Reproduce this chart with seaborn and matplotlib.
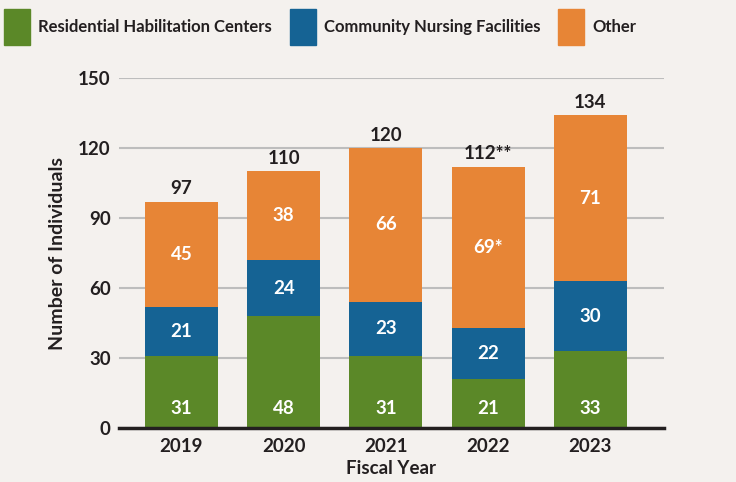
import numpy as np
import pandas as pd
import seaborn as sns
import matplotlib.pyplot as plt
from matplotlib.patches import Rectangle

# Data
years = ["2019", "2020", "2021", "2022", "2023"]
rhc = [31, 48, 31, 21, 33]          # Residential Habilitation Centers
cnf = [21, 24, 23, 22, 30]          # Community Nursing Facilities
other = [45, 38, 66, 69, 71]        # Other
other_labels = ["45", "38", "66", "69*", "71"]
total_labels = ["97", "110", "120", "112**", "134"]
series_names = ["Residential Habilitation Centers", "Community Nursing Facilities", "Other"]

GREEN = "#5b8828"
BLUE = "#156394"
ORANGE = "#e78536"
BG = "#f4f1ee"
TEXT = "#231f20"

sns.set_theme(style="white")
plt.rcParams["font.family"] = ["Lato", "DejaVu Sans"]
plt.rcParams["font.weight"] = "bold"

df = pd.DataFrame({"year": years, "rhc": rhc, "cnf": cnf, "other": other})
df["rhc_cnf"] = df["rhc"] + df["cnf"]
df["total"] = df["rhc_cnf"] + df["other"]

fig = plt.figure(figsize=(7.36, 4.82), dpi=100, facecolor=BG)
ax = fig.add_axes([119 / 736, 1 - 428 / 482, (664 - 119) / 736, 350 / 482])
ax.set_facecolor(BG)

# stacked bars drawn as overlapping cumulative layers
bar_kw = dict(saturation=1, width=0.714, ax=ax, zorder=3, linewidth=0)
sns.barplot(data=df, x="year", y="total", color=ORANGE, **bar_kw)
sns.barplot(data=df, x="year", y="rhc_cnf", color=BLUE, **bar_kw)
sns.barplot(data=df, x="year", y="rhc", color=GREEN, **bar_kw)

ax.set_xlim(-0.611, 4.72)
ax.set_ylim(0, 150)
ax.set_yticks([0, 30, 60, 90, 120, 150])
ax.yaxis.grid(True, color="#bdbdbd", linewidth=1.5, zorder=0)
ax.xaxis.grid(False)
for s in ["top", "right", "left"]:
    ax.spines[s].set_visible(False)
ax.spines["bottom"].set_color(TEXT)
ax.spines["bottom"].set_linewidth(2.5)
ax.spines["bottom"].set_zorder(4)
ax.tick_params(axis="both", length=0, labelsize=13.5, labelcolor=TEXT)
ax.tick_params(axis="x", pad=7)
ax.tick_params(axis="y", pad=6)
for lab in ax.get_xticklabels() + ax.get_yticklabels():
    lab.set_fontweight("bold")

ax.set_xlabel("Fiscal Year", fontsize=13.5, fontweight="bold", color=TEXT, labelpad=4)
ax.set_ylabel("Number of Individuals", fontsize=14, fontweight="bold", color=TEXT, labelpad=9)

# segment labels
for i in range(len(years)):
    ax.text(i, 8.5, str(rhc[i]), ha="center", va="center", color="white",
            fontsize=13.5, fontweight="bold", zorder=5)
    ax.text(i, rhc[i] + cnf[i] / 2, str(cnf[i]), ha="center", va="center", color="white",
            fontsize=13.5, fontweight="bold", zorder=5)
    ax.text(i, rhc[i] + cnf[i] + other[i] / 2, other_labels[i], ha="center", va="center",
            color="white", fontsize=13.5, fontweight="bold", zorder=5)
    ax.annotate(total_labels[i], (i, df["total"][i]), xytext=(0, 3), textcoords="offset points",
                ha="center", va="bottom", color=TEXT, fontsize=13.5, fontweight="bold")

# legend across the top, entries laid out one after another
renderer = fig.canvas.get_renderer()
x0 = 4
for name, col in zip(series_names, [GREEN, BLUE, ORANGE]):
    fig.patches.append(Rectangle((x0 / 736, 1 - 45 / 482), 26 / 736, 36 / 482,
                                 transform=fig.transFigure, color=col))
    t = fig.text((x0 + 34) / 736, 1 - 27 / 482, name, ha="left", va="center",
                 fontsize=12, fontweight="bold", color=TEXT)
    x0 = x0 + 34 + t.get_window_extent(renderer).width + 18

fig.savefig("out.png", dpi=100, facecolor=BG)
